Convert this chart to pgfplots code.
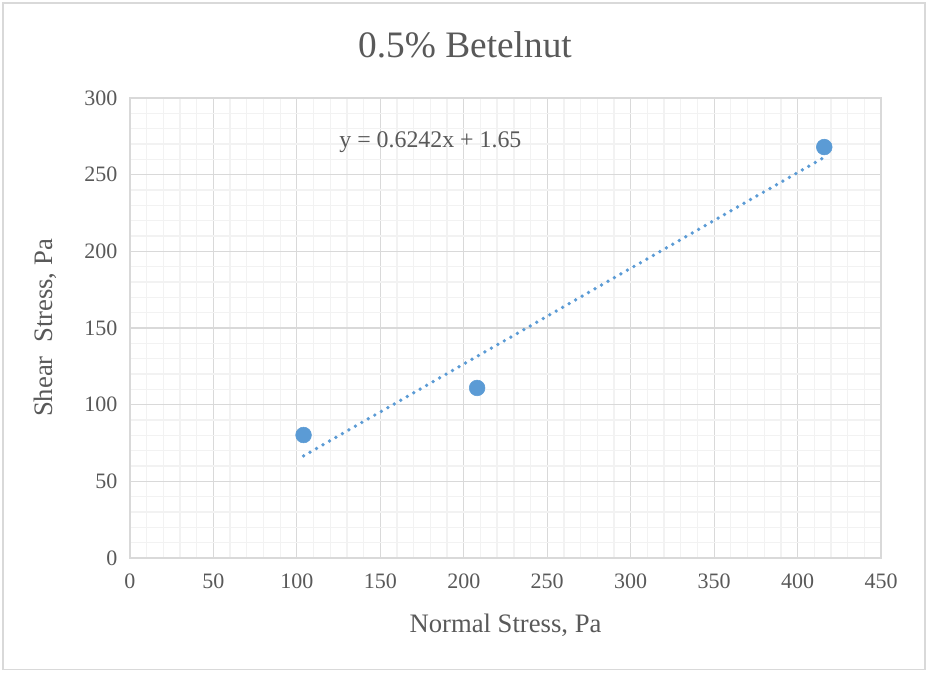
\documentclass[border=0pt]{standalone}
\usepackage{pgfplots}
\pgfplotsset{compat=1.18}
\usepackage{fontspec}
\setmainfont{Liberation Serif}
\definecolor{txt}{HTML}{595959}
\definecolor{majgrid}{HTML}{D9D9D9}
\definecolor{mingrid}{HTML}{F2F2F2}
\definecolor{ser}{HTML}{5B9BD5}
\begin{document}
\begin{tikzpicture}
  % page frame: 928x673 px at 0.75pt per px
  \fill[white] (0,0) rectangle (696pt,504.75pt);
  \draw[majgrid, line width=1pt] (2.25pt,2.5pt) rectangle (693.75pt,502.5pt);
  \node[text=txt, font=\fontsize{28}{30}\selectfont] at (348.75pt,471pt) {0.5\% Betelnut};
  \begin{axis}[
      at={(97.5pt,86.25pt)}, anchor=south west,
      scale only axis,
      width=563.25pt, height=345pt,
      xmin=0, xmax=450, ymin=0, ymax=300,
      xtick={0,50,...,450}, ytick={0,50,...,300},
      minor x tick num=4, minor y tick num=4,
      grid=both,
      major grid style={majgrid, line width=0.9pt},
      minor grid style={mingrid, line width=1pt},
      axis line style={majgrid, line width=0.9pt},
      major tick length=0pt, minor tick length=0pt,
      tick label style={text=txt, font=\fontsize{16.5}{18}\selectfont},
      /pgf/number format/assume math mode=true,
      xticklabel style={yshift=-8pt},
      yticklabel style={xshift=-6pt},
      xlabel={Normal Stress, Pa},
      ylabel={Shear\ \ Stress, Pa},
      label style={text=txt, font=\fontsize{20}{22}\selectfont},
      xlabel style={at={(axis description cs:0.5,-0.1457)}, anchor=center},
      ylabel style={at={(axis description cs:-0.113,0.5)}, anchor=center},
      clip=false,
    ]
    % linear trendline y = 0.6242x + 1.65
    \addplot[ser, line width=2.8pt, line cap=round, dash pattern=on 0pt off 5.6pt]
      coordinates {(104,66.57) (416,261.32)};
    \addplot[only marks, mark=*, mark size=5.9pt, ser, mark options={fill=ser, draw=ser}]
      coordinates {(104,80.2) (208,110.9) (416,268)};
    \node[text=txt, font=\fontsize{17.9}{19}\selectfont] at (axis cs:180,271) {y = 0.6242x + 1.65};
  \end{axis}
\end{tikzpicture}
\end{document}
